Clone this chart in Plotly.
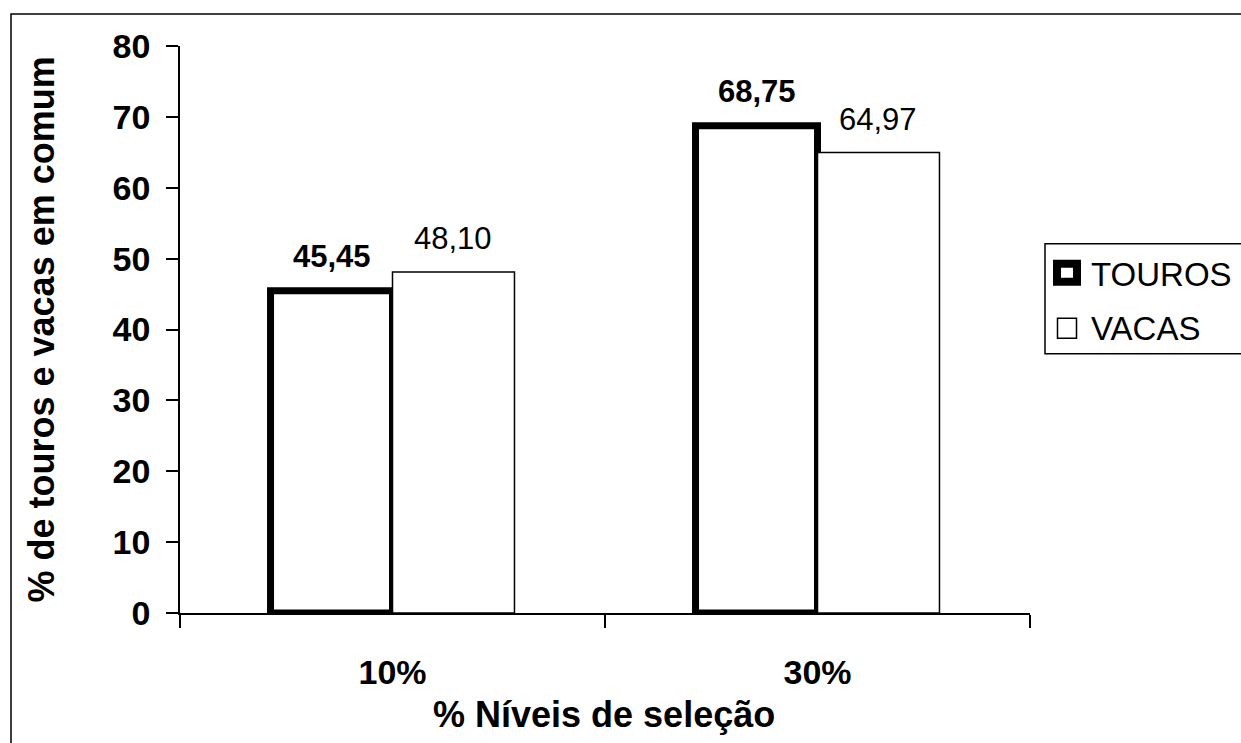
import plotly.graph_objects as go

# ---- data ----
categories = ["10%", "30%"]
touros = [45.45, 68.75]
vacas = [48.10, 64.97]
touros_labels = ["45,45", "68,75"]
vacas_labels = ["48,10", "64,97"]
series_names = ["TOUROS", "VACAS"]
y_ticks = [0, 10, 20, 30, 40, 50, 60, 70, 80]

W, H = 1241, 743
L, R, T, B = 180, 211, 46, 129.5
PW, PH = W - L - R, H - T - B


def px_x(p):
    return (p - L) / PW


def px_y(p):
    return (H - B - p) / PH


FONT = "Liberation Sans, Arial, sans-serif"

fig = go.Figure()
fig.add_trace(go.Bar(
    x=categories, y=touros, name=series_names[0],
    marker=dict(color="white", line=dict(color="black", width=7)),
    showlegend=False,
))
fig.add_trace(go.Bar(
    x=categories, y=vacas, name=series_names[1],
    marker=dict(color="white", line=dict(color="black", width=1.5)),
    showlegend=False,
))

annotations = []
bar_px = PW / len(categories) * (1 - 0.426) / 2
for c, v, t in zip(categories, touros, touros_labels):
    annotations.append(dict(x=c, y=v, text=f"<b>{t}</b>", showarrow=False,
                            xshift=-bar_px / 2, yshift=15, yanchor="bottom",
                            font=dict(size=31, family=FONT, color="black")))
for c, v, t in zip(categories, vacas, vacas_labels):
    annotations.append(dict(x=c, y=v, text=t, showarrow=False,
                            xshift=bar_px / 2, yshift=14, yanchor="bottom",
                            font=dict(size=31, family=FONT, color="black")))

# axis titles
annotations.append(dict(xref="paper", yref="paper", x=px_x(604), y=px_y(715),
                        text="<b>% Níveis de seleção</b>", showarrow=False,
                        xanchor="center", yanchor="middle",
                        font=dict(size=36, family=FONT, color="black")))
annotations.append(dict(xref="paper", yref="paper", x=px_x(41), y=0.5,
                        text="<b>% de touros e vacas em comum</b>", showarrow=False,
                        textangle=-90, xanchor="center", yanchor="middle",
                        font=dict(size=36, family=FONT, color="black")))

# legend texts
annotations.append(dict(xref="paper", yref="paper", x=px_x(1089), y=px_y(274.6),
                        text=series_names[0], showarrow=False,
                        xanchor="left", yanchor="middle",
                        font=dict(size=33, family=FONT, color="black")))
annotations.append(dict(xref="paper", yref="paper", x=px_x(1089), y=px_y(328.6),
                        text=series_names[1], showarrow=False,
                        xanchor="left", yanchor="middle",
                        font=dict(size=33, family=FONT, color="black")))

shapes = [
    # outer frame
    dict(type="rect", xref="paper", yref="paper",
         x0=px_x(11), x1=px_x(1260), y0=px_y(14), y1=px_y(770),
         line=dict(color="black", width=1.5), fillcolor="rgba(0,0,0,0)"),
    # legend box
    dict(type="rect", xref="paper", yref="paper",
         x0=px_x(1045), x1=px_x(1260), y0=px_y(244), y1=px_y(354),
         line=dict(color="black", width=1.5), fillcolor="white"),
    # legend keys
    dict(type="rect", xref="paper", yref="paper",
         x0=px_x(1057), x1=px_x(1077), y0=px_y(264), y1=px_y(282),
         line=dict(color="black", width=8), fillcolor="white"),
    dict(type="rect", xref="paper", yref="paper",
         x0=px_x(1057.5), x1=px_x(1076.5), y0=px_y(318.5), y1=px_y(338.5),
         line=dict(color="black", width=1.5), fillcolor="white"),
]

fig.update_layout(
    width=W, height=H, autosize=False,
    margin=dict(l=L, r=R, t=T, b=B, pad=0),
    paper_bgcolor="white", plot_bgcolor="white",
    barmode="group", bargap=0.426, bargroupgap=0,
    showlegend=False,
    annotations=annotations, shapes=shapes,
    font=dict(family=FONT, color="black"),
)
fig.update_xaxes(
    showline=True, linecolor="black", linewidth=1.5,
    ticks="outside", ticklen=13, tickwidth=1.5, tickcolor="black",
    tickson="boundaries", showgrid=False, zeroline=False,
    tickfont=dict(size=34, family=FONT, color="black", weight="bold"),
    ticklabelstandoff=28,
)
fig.update_yaxes(
    range=[0, 80], tickvals=y_ticks,
    showline=True, linecolor="black", linewidth=1.5,
    ticks="outside", ticklen=12, tickwidth=1.5, tickcolor="black",
    showgrid=False, zeroline=False,
    tickfont=dict(size=34, family=FONT, color="black", weight="bold"),
    ticklabelstandoff=9,
)

fig.write_html("out.html")
